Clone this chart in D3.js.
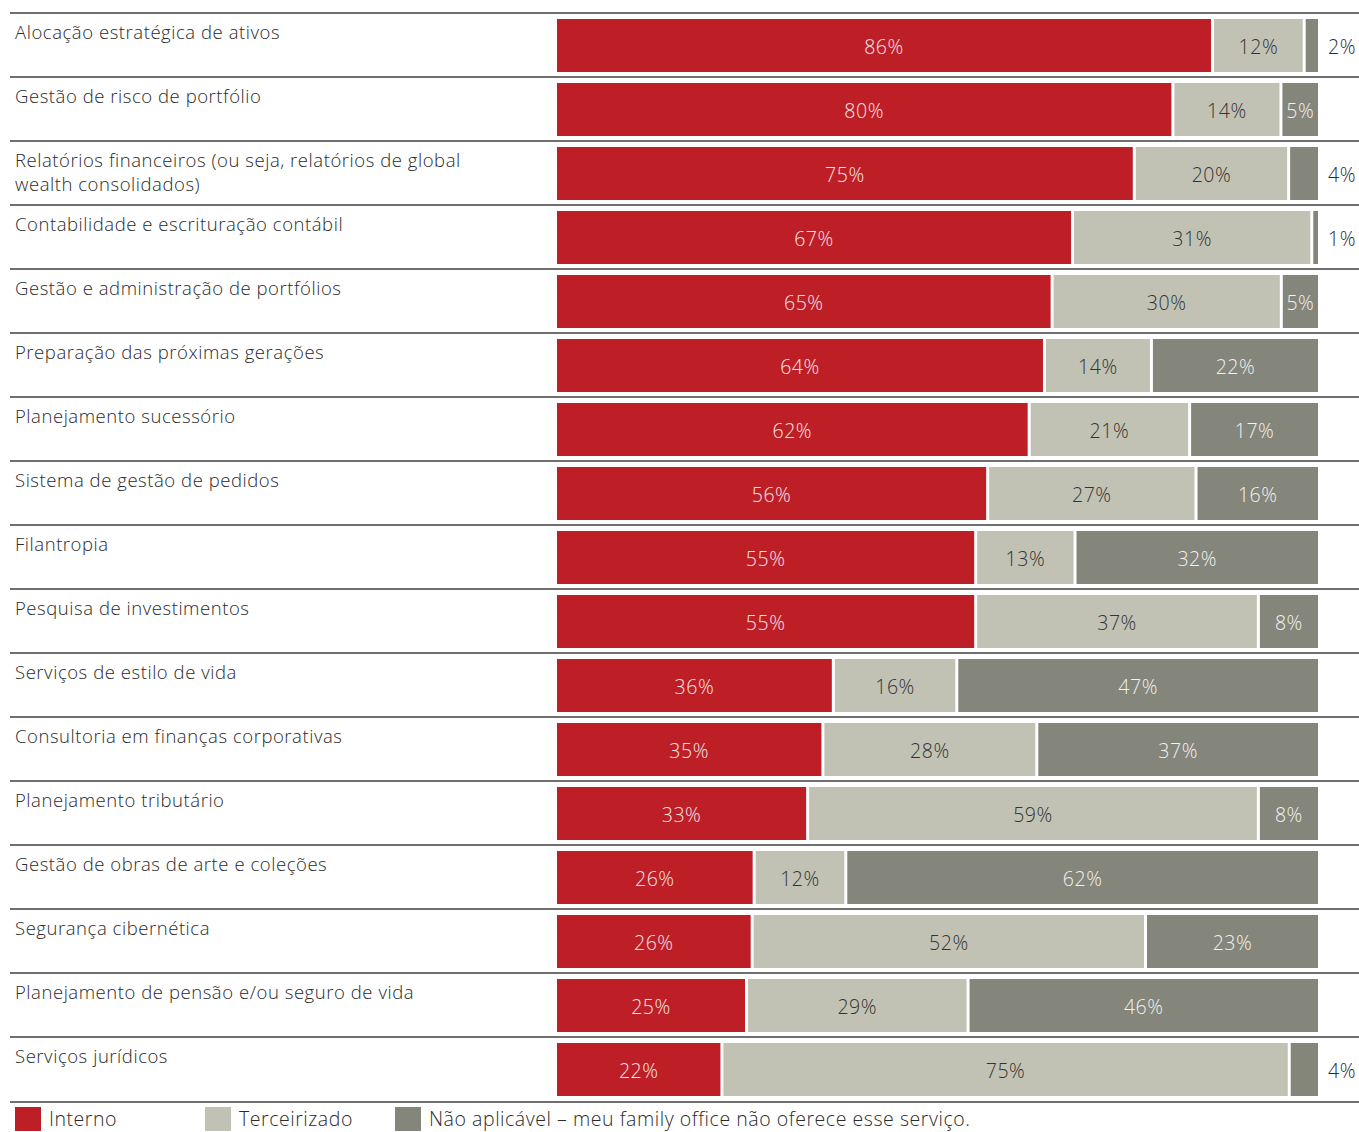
<!DOCTYPE html>
<html>
<head>
<meta charset="utf-8">
<script src="https://cdn.jsdelivr.net/npm/d3@7"></script>
<style>
  html, body { margin: 0; padding: 0; background: #fff; }
  svg { display: block; font-family: "Open Sans", "Noto Sans", sans-serif; font-weight: 350; letter-spacing: 0.55px; }
</style>
</head>
<body>
<svg id="chart" width="1359" height="1132"></svg>
<script>
// Service categories (line breaks marked with \n)
const categories = [
  "Alocação estratégica de ativos",
  "Gestão de risco de portfólio",
  "Relatórios financeiros (ou seja, relatórios de global\nwealth consolidados)",
  "Contabilidade e escrituração contábil",
  "Gestão e administração de portfólios",
  "Preparação das próximas gerações",
  "Planejamento sucessório",
  "Sistema de gestão de pedidos",
  "Filantropia",
  "Pesquisa de investimentos",
  "Serviços de estilo de vida",
  "Consultoria em finanças corporativas",
  "Planejamento tributário",
  "Gestão de obras de arte e coleções",
  "Segurança cibernética",
  "Planejamento de pensão e/ou seguro de vida",
  "Serviços jurídicos"
];

// Shares (%) per category
const interno      = [86, 80, 75, 67, 65, 64, 62, 56, 55, 55, 36, 35, 33, 26, 26, 25, 22];
const terceirizado = [12, 14, 20, 31, 30, 14, 21, 27, 13, 37, 16, 28, 59, 12, 52, 29, 75];
const naoAplicavel = [ 2,  5,  4,  1,  5, 22, 17, 16, 32,  8, 47, 37,  8, 62, 23, 46,  4];

const seriesKeys = ["interno", "terceirizado", "naoAplicavel"];
const seriesNames = ["Interno", "Terceirizado", "Não aplicável – meu family office não oferece esse serviço."];
const colors = ["#BE1F26", "#C1C2B4", "#84857B"];
const labelColors = ["#f6e6e6", "#333333", "#f2f2ee"];

const rows = categories.map((c, i) => ({
  category: c,
  interno: interno[i],
  terceirizado: terceirizado[i],
  naoAplicavel: naoAplicavel[i]
}));

const svg = d3.select("#chart");

const rowTop = 13, rowStep = 64;
const y = d3.scaleBand()
  .domain(categories)
  .range([rowTop, rowTop + rowStep * categories.length])
  .paddingInner(0).paddingOuter(0);

const gap = 3;
const x = d3.scaleLinear().domain([0, 1]).range([557, 1318 + gap]);

const stack = d3.stack().keys(seriesKeys).offset(d3.stackOffsetExpand);
const stacked = stack(rows);

// row separators
const sepY = categories.map(c => y(c)).concat([y.range()[1] + 1]);
svg.append("g").selectAll("line")
  .data(sepY)
  .join("line")
  .attr("x1", 10).attr("x2", 1359)
  .attr("y1", d => d).attr("y2", d => d)
  .attr("stroke", "#6f6f6f")
  .attr("stroke-width", 2);

// category labels
const catG = svg.append("g");
categories.forEach(c => {
  const lines = c.split("\n");
  const t = catG.append("text")
    .attr("x", 15)
    .attr("y", y(c) + 26)
    .attr("fill", "#2b2b2b")
    .attr("font-size", 18.5);
  lines.forEach((l, j) => {
    t.append("tspan").attr("x", 15).attr("dy", j === 0 ? 0 : 24).text(l);
  });
});

// bars
const barOffset = 6, barH = 53;
const layers = svg.append("g").selectAll("g")
  .data(stacked)
  .join("g")
  .attr("fill", (d, i) => colors[i]);

layers.selectAll("rect")
  .data(d => d)
  .join("rect")
  .attr("x", d => x(d[0]))
  .attr("y", d => y(d.data.category) + barOffset)
  .attr("width", d => Math.max(0, x(d[1]) - x(d[0]) - gap))
  .attr("height", barH);

// value labels
const lblG = svg.append("g").attr("font-size", 19.5);
stacked.forEach((layer, si) => {
  layer.forEach(d => {
    const v = d.data[layer.key];
    const cy = y(d.data.category) + barOffset + barH / 2 + 1;
    const inside = v >= 5;
    lblG.append("text")
      .attr("x", inside ? (x(d[0]) + x(d[1]) - gap) / 2 : 1356)
      .attr("y", cy)
      .attr("dominant-baseline", "central")
      .attr("text-anchor", inside ? "middle" : "end")
      .attr("fill", inside ? labelColors[si] : "#2b2b2b")
      .text(v + "%");
  });
});

// legend
const legX = [15, 205, 395];
const legY = y.range()[1] + 6;
const leg = svg.append("g");
seriesNames.forEach((n, i) => {
  leg.append("rect")
    .attr("x", legX[i]).attr("y", legY)
    .attr("width", 26).attr("height", 24)
    .attr("fill", colors[i]);
  leg.append("text")
    .attr("x", legX[i] + 34).attr("y", legY + 19)
    .attr("font-size", 19.5)
    .attr("fill", "#2b2b2b")
    .text(n);
});
</script>
</body>
</html>
